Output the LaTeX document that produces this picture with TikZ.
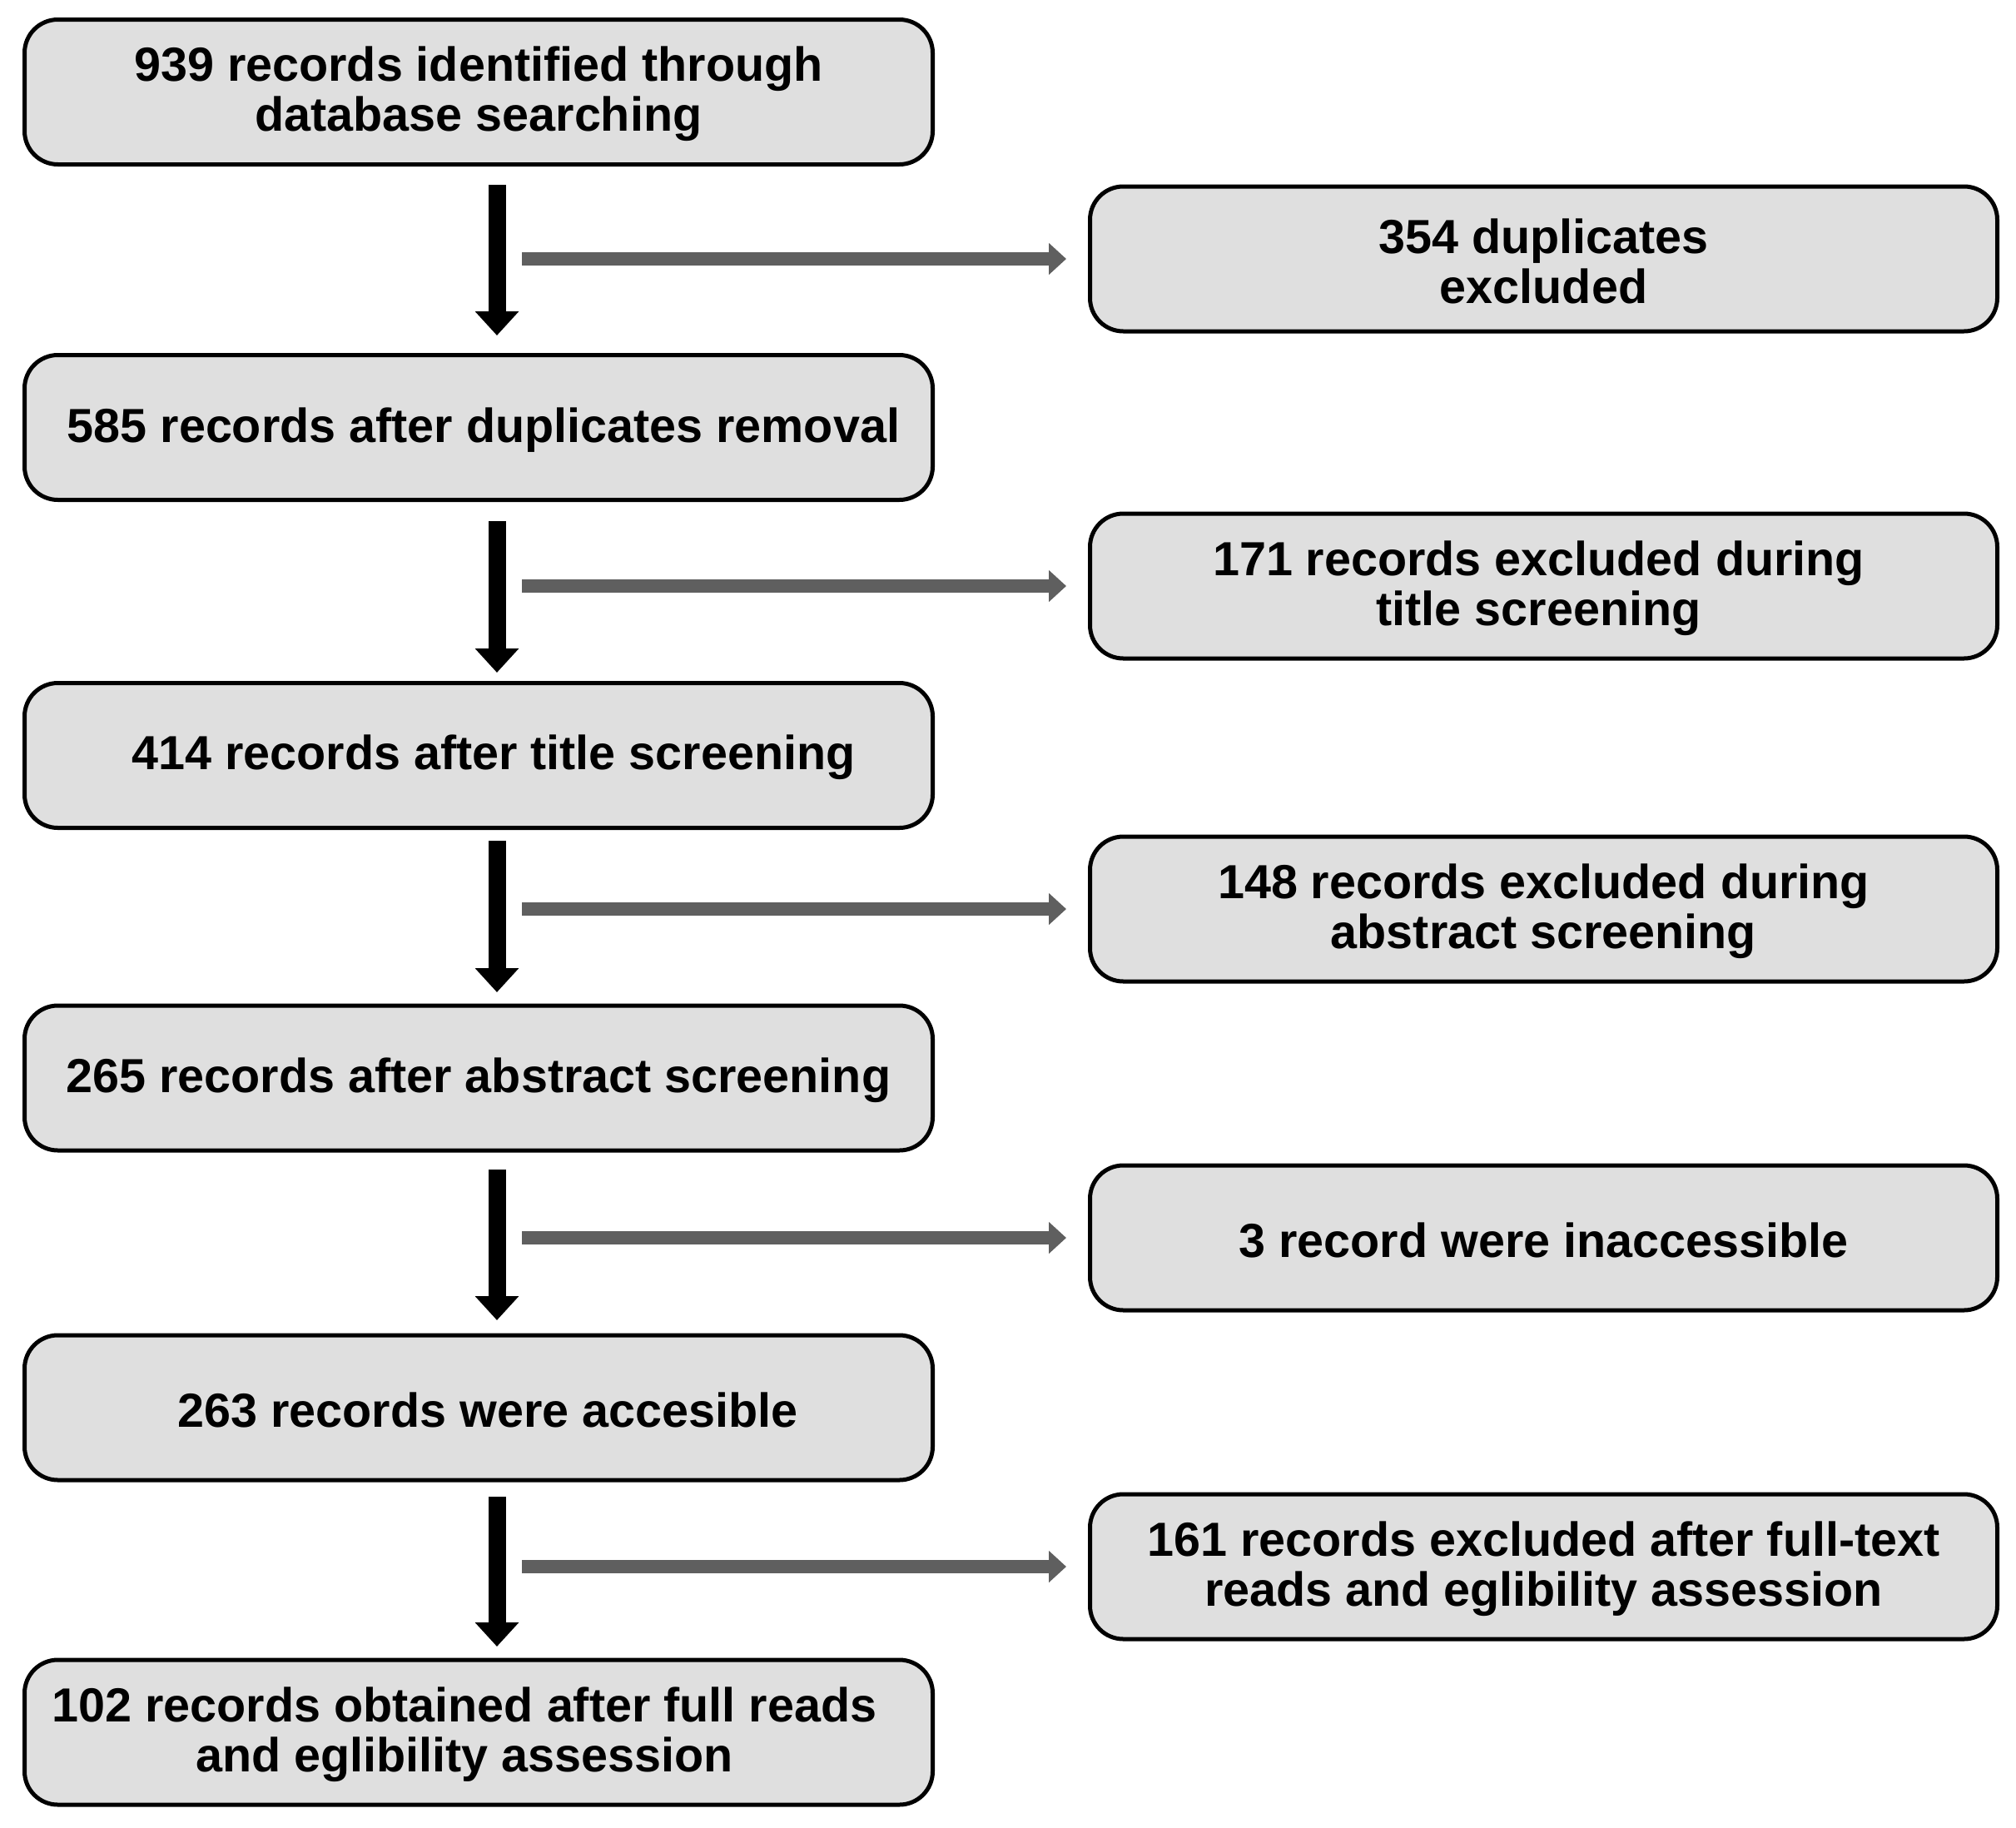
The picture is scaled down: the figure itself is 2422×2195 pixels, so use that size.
\documentclass[tikz,border=0pt]{standalone}
\usepackage{fontspec}
\setmainfont{Liberation Sans}
\usetikzlibrary{arrows.meta}
\definecolor{boxfill}{HTML}{DFDFDF}
\definecolor{arrgray}{HTML}{5F5F5F}
\newcommand{\tstrut}{\rule{0pt}{47pt}}
\newcommand{\gap}[1]{\rule{#1pt}{0pt}}
\begin{document}
\begin{tikzpicture}[x=1pt,y=-1pt,
  box/.style={draw=black,line width=5pt,fill=boxfill,rounded corners=40pt,
    minimum width=1091pt,minimum height=174pt,inner sep=0pt,outer sep=0pt,
    align=center,font=\fontsize{57.5}{60}\selectfont\bfseries},
  rbox/.style={box,minimum width=1090pt},
  blk/.style={draw=black,line width=21pt,-{Triangle[width=51pt,length=29pt]}},
  gry/.style={draw=arrgray,line width=16pt,-{Triangle[width=37pt,length=21pt]},shorten >=28.5pt}]
\path[use as bounding box,fill=white] (0,0) rectangle (2422,2195);
\coordinate (ax) at (597,0);
\coordinate (gx) at (627,0);
% left column
\node[box] (a1) at (575,110.5) {\tstrut939 records identified through\\database searching};
\node[box] (a2) at (575,513.5) {\tstrut\gap{12}585 records after duplicates removal};
\node[box] (a3) at (575,907.5) {\tstrut\gap{36}414 records after title screening};
\node[box] (a4) at (575,1295) {\tstrut265 records after abstract screening};
\node[box] (a5) at (575,1691) {\tstrut\gap{22}263 records were accesible};
\node[box] (a6) at (575,2081) {\tstrut102 records obtained after full reads\gap{34}\\and eglibility assession\gap{34}};
% right column
\node[rbox] (r1) at (1854.5,311) {\tstrut354 duplicates\\excluded};
\node[rbox] (r2) at (1854.5,704) {\tstrut171 records excluded during\gap{12}\\title screening\gap{12}};
\node[rbox] (r3) at (1854.5,1092) {\tstrut148 records excluded during\\abstract screening};
\node[rbox] (r4) at (1854.5,1487) {\tstrut3 record were inaccessible};
\node[rbox] (r5) at (1854.5,1882) {\tstrut161 records excluded after full-text\\reads and eglibility assession};
% black arrows
\draw[blk,shorten <=24.5pt,shorten >=23.5pt] (a1.south -| ax) -- (a2.north -| ax);
\draw[blk,shorten <=25.5pt,shorten >=12.5pt] (a2.south -| ax) -- (a3.north -| ax);
\draw[blk,shorten <=15.5pt,shorten >=16pt] (a3.south -| ax) -- (a4.north -| ax);
\draw[blk,shorten <=23pt,shorten >=18pt] (a4.south -| ax) -- (a5.north -| ax);
\draw[blk,shorten <=20pt,shorten >=16pt] (a5.south -| ax) -- (a6.north -| ax);
% gray arrows
\draw[gry] (r1.west -| gx) -- (r1.west);
\draw[gry] (r2.west -| gx) -- (r2.west);
\draw[gry] (r3.west -| gx) -- (r3.west);
\draw[gry] (r4.west -| gx) -- (r4.west);
\draw[gry] (r5.west -| gx) -- (r5.west);
\end{tikzpicture}
\end{document}
